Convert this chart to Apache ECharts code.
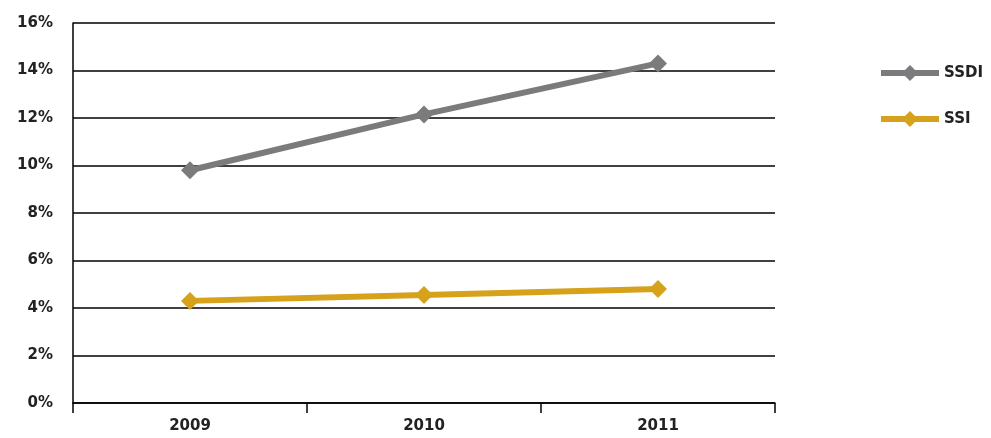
<!DOCTYPE html>
<html>
<head>
<meta charset="UTF-8">
<script src="https://cdn.jsdelivr.net/npm/echarts@6/dist/echarts.min.js"></script>
</head>
<body style="margin:0">
<div id="chart" style="width:991px;height:438px"></div>
<script>
var years = ['2009', '2010', '2011'];
var ssdi = [9.8, 12.15, 14.3];
var ssi = [4.3, 4.55, 4.8];

var chart = echarts.init(document.getElementById('chart'));
var font = { fontFamily: 'DejaVu Sans', fontWeight: 'bold', fontSize: 15, color: '#222' };
chart.setOption({
    backgroundColor: '#fff',
    grid: { left: 73, right: 216, top: 23, bottom: 35 },
    legend: {
        orient: 'vertical', left: 878, top: 65, itemGap: 30, padding: 0,
        itemWidth: 58, itemHeight: 20,
        lineStyle: { width: 6 },
        textStyle: font,
        data: ['SSDI', 'SSI']
    },
    xAxis: {
        type: 'category', data: years, boundaryGap: true,
        axisLine: { lineStyle: { color: '#000', width: 1.5 } },
        axisTick: { show: true, length: 10, lineStyle: { color: '#000', width: 1.5 } },
        axisLabel: Object.assign({ margin: 16 }, font)
    },
    yAxis: {
        type: 'value', min: 0, max: 16, interval: 2,
        axisLine: { show: true, lineStyle: { color: '#000', width: 1.5 } },
        axisTick: { show: false },
        axisLabel: Object.assign({ formatter: '{value}%', margin: 20 }, font),
        splitLine: { lineStyle: { color: '#000', width: 1.5 } }
    },
    series: [
        { name: 'SSDI', type: 'line', data: ssdi, symbol: 'diamond', symbolSize: 18,
          lineStyle: { width: 6, color: '#7b7b7d' }, itemStyle: { color: '#7b7b7d' } },
        { name: 'SSI', type: 'line', data: ssi, symbol: 'diamond', symbolSize: 18,
          lineStyle: { width: 6, color: '#d6a11b' }, itemStyle: { color: '#d6a11b' } }
    ]
});
</script>
</body>
</html>
